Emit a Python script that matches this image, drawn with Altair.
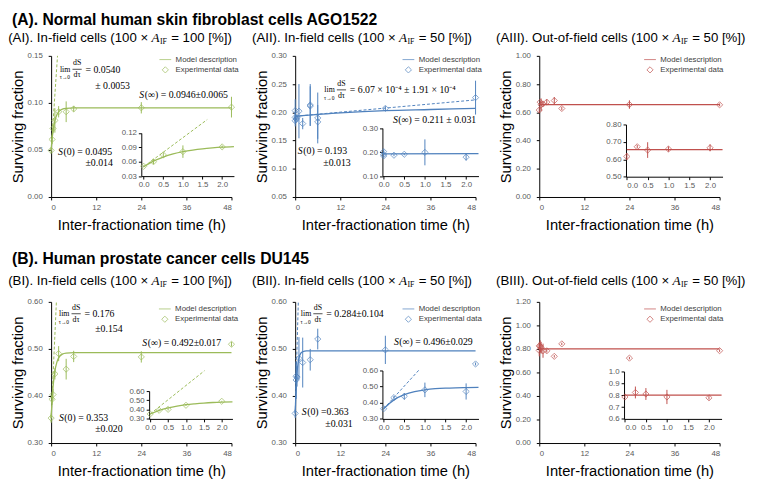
import altair as alt
import pandas as pd

SANS = "Liberation Sans"
SERIF = "Liberation Serif"
GREEN = "#9BBB59"
BLUE = "#4F81BD"
RED = "#C0504D"
W, H = 184, 144
SERIES = ["Model description", "Experimental data"]

# ---------------- (AI) AGO1522, in-field, 100 % ----------------
ai_t = [0, 0.25, 0.5, 1, 2, 4, 6, 24, 48]
ai_s = [0.0495, 0.0612, 0.0728, 0.0814, 0.0906, 0.0906, 0.0936, 0.0948, 0.0955]
ai_e = [0.003, 0.005, 0.005, 0.013, 0.006, 0.011, 0.003, 0.006, 0.011]
ai_fit_t = [0, 0.25, 0.5, 1, 1.5, 2, 3, 4, 6, 12, 24, 48]
ai_fit_s = [0.0495, 0.0612, 0.0698, 0.0810, 0.0871, 0.0905, 0.0934, 0.0942, 0.0946, 0.0946, 0.0946, 0.0946]
ai_tan_t = [0, 1.7]
ai_tan_s = [0.0495, 0.15]
ai_in_t = [0, 0.25, 0.5, 1, 2]
ai_in_s = [0.0505, 0.0600, 0.0743, 0.0811, 0.0910]
ai_in_e = [0.002, 0.005, 0.005, 0.013, 0.003]
ai_in_fit_t = [0, 0.25, 0.5, 0.75, 1, 1.25, 1.5, 1.75, 2, 2.3]
ai_in_fit_s = [0.0495, 0.0612, 0.0698, 0.0762, 0.0810, 0.0845, 0.0871, 0.0890, 0.0905, 0.0917]
ai_in_tan_t = [0, 1.62]
ai_in_tan_s = [0.0495, 0.148]

# ---------------- (AII) AGO1522, in-field, 50 % ----------------
aii_t = [0, 0, 0, 0.25, 0.5, 1, 2, 4, 4, 6, 6, 24, 48]
aii_s = [0.203, 0.191, 0.185, 0.188, 0.191, 0.202, 0.180, 0.213, 0.211, 0.190, 0.183, 0.207, 0.226]
aii_e = [0.02, 0.01, 0.01, 0.005, 0.004, 0.048, 0.01, 0.037, 0.035, 0.045, 0.03, 0.004, 0.03]
aii_fit_t = [0, 12, 24, 36, 48]
aii_fit_s = [0.193, 0.199, 0.203, 0.205, 0.207]
aii_tan_t = [0, 48]
aii_tan_s = [0.193, 0.222]
aii_in_t = [0, 0, 0, 0.25, 0.5, 1, 2]
aii_in_s = [0.202, 0.190, 0.184, 0.187, 0.191, 0.199, 0.179]
aii_in_e = [0.008, 0.005, 0.005, 0.004, 0.004, 0.054, 0.014]
aii_in_fit_t = [0, 2.3]
aii_in_fit_s = [0.193, 0.194]

# ---------------- (AIII) AGO1522, out-of-field, 50 % ----------------
aiii_t = [0, 0.25, 0.5, 1, 2, 4, 6, 24, 48]
aiii_s = [0.616, 0.672, 0.653, 0.659, 0.672, 0.683, 0.627, 0.655, 0.653]
aiii_e = [0.02, 0.01, 0.045, 0.015, 0.02, 0.025, 0.012, 0.03, 0.01]
aiii_fit_t = [0, 48]
aiii_fit_s = [0.655, 0.655]
aiii_in_t = [0, 0.25, 0.5, 1, 2]
aiii_in_s = [0.616, 0.672, 0.653, 0.659, 0.666]
aiii_in_e = [0.02, 0.01, 0.045, 0.015, 0.02]
aiii_in_fit_t = [0, 2.3]
aiii_in_fit_s = [0.655, 0.655]

# ---------------- (BI) DU145, in-field, 100 % ----------------
bi_t = [0, 0.25, 0.5, 1, 2, 4, 6, 24, 48]
bi_s = [0.353, 0.393, 0.403, 0.447, 0.490, 0.457, 0.484, 0.483, 0.510]
bi_e = [0.01, 0.012, 0.012, 0.012, 0.016, 0.022, 0.012, 0.012, 0.005]
bi_fit_t = [0, 0.25, 0.5, 1, 1.5, 2, 3, 4, 6, 48]
bi_fit_s = [0.353, 0.391, 0.418, 0.453, 0.471, 0.481, 0.489, 0.491, 0.492, 0.492]
bi_tan_t = [0, 1.4]
bi_tan_s = [0.353, 0.60]
bi_in_t = [0, 0.25, 0.5, 1, 2]
bi_in_s = [0.353, 0.393, 0.403, 0.447, 0.490]
bi_in_e = [0.005, 0.012, 0.012, 0.008, 0.005]
bi_in_fit_t = [0, 0.25, 0.5, 0.75, 1, 1.25, 1.5, 1.75, 2, 2.3]
bi_in_fit_s = [0.353, 0.391, 0.418, 0.438, 0.453, 0.463, 0.471, 0.477, 0.481, 0.484]
bi_in_tan_t = [0, 1.52]
bi_in_tan_s = [0.353, 0.82]

# ---------------- (BII) DU145, in-field, 50 % ----------------
bii_t = [0, 0.25, 0.25, 0.5, 1, 2, 4, 6, 24, 48]
bii_s = [0.363, 0.434, 0.442, 0.440, 0.480, 0.471, 0.477, 0.521, 0.498, 0.468]
bii_e = [0.01, 0.04, 0.03, 0.02, 0.045, 0.053, 0.023, 0.022, 0.03, 0.003]
bii_fit_t = [0, 0.25, 0.5, 0.75, 1, 1.5, 2, 3, 48]
bii_fit_s = [0.363, 0.418, 0.450, 0.469, 0.480, 0.491, 0.494, 0.496, 0.496]
bii_tan_t = [0, 0.83]
bii_tan_s = [0.363, 0.60]
bii_in_t = [0, 0.25, 0.5, 1, 2]
bii_in_s = [0.363, 0.432, 0.440, 0.480, 0.470]
bii_in_e = [0.005, 0.01, 0.02, 0.045, 0.05]
bii_in_fit_t = [0, 0.25, 0.5, 0.75, 1, 1.25, 1.5, 1.75, 2, 2.3]
bii_in_fit_s = [0.363, 0.418, 0.450, 0.469, 0.480, 0.487, 0.491, 0.493, 0.494, 0.495]
bii_in_tan_t = [0, 0.86]
bii_in_tan_s = [0.363, 0.604]

# ---------------- (BIII) DU145, out-of-field, 50 % ----------------
biii_t = [0, 0, 0.25, 0.5, 1, 2, 4, 6, 24, 48]
biii_s = [0.787, 0.826, 0.823, 0.81, 0.785, 0.784, 0.737, 0.843, 0.722, 0.785]
biii_e = [0.05, 0.03, 0.05, 0.05, 0.06, 0.015, 0.01, 0.01, 0.01, 0.01]
biii_fit_t = [0, 48]
biii_fit_s = [0.80, 0.80]
biii_in_t = [0, 0.25, 0.5, 1, 2]
biii_in_s = [0.785, 0.823, 0.81, 0.785, 0.778]
biii_in_e = [0.01, 0.05, 0.05, 0.06, 0.015]
biii_in_fit_t = [0, 2.3]
biii_in_fit_s = [0.80, 0.80]


def frame(t, s, e=None):
    d = pd.DataFrame({"t": t, "s": s})
    if e is not None:
        d["lo"] = [v - u for v, u in zip(s, e)]
        d["hi"] = [v + u for v, u in zip(s, e)]
    d["series"] = SERIES[1]
    return d


def txt(text, x, y, size=10, font=SERIF, style="normal", weight="normal", align="left"):
    return alt.Chart(alt.Data(values=[{"k": 0}])).mark_text(
        text=text, font=font, fontSize=size, fontStyle=style, fontWeight=weight,
        align=align, baseline="middle", color="black"
    ).encode(x=alt.value(x), y=alt.value(y))


def bar(x1, x2, y):
    return alt.Chart(alt.Data(values=[{"k": 0}])).mark_rule(color="black", strokeWidth=0.7).encode(
        x=alt.value(x1), x2=alt.value(x2), y=alt.value(y))


TS = 13.5  # panel-title font size


def title_texts(lead, tail, xa, section=None, sy=-36, ty=-18):
    out = []
    if section:
        out.append(dict(text=section, x=-40, y=sy, size=16, font=SANS, weight="bold"))
    out += [
        dict(text=lead, x=xa - 3.5, y=ty, size=TS, font=SANS, align="right"),
        dict(text="A", x=xa, y=ty, size=TS, font=SERIF, style="italic"),
        dict(text="IF", x=xa + 8.5, y=ty + 4, size=8, font=SERIF),
        dict(text=tail, x=xa + 20, y=ty, size=TS, font=SANS),
    ]
    return out


def lim_texts(x, y, value):
    return [
        dict(text="lim", x=x, y=y, size=8),
        dict(text="τ→0", x=x + 5, y=y + 7.8, size=5.5, align="center"),
        dict(text="dS", x=x + 17.5, y=y - 6.6, size=8, align="center"),
        dict(text="dτ", x=x + 17.5, y=y + 5.6, size=8, align="center"),
        dict(text=value, x=x + 26, y=y),
    ]


def lim_bar(x, y):
    return [(x + 12.8, x + 22.2, y - 0.6)]


def s_texts(x, y, rest):
    return [dict(text="S", x=x, y=y, style="italic"), dict(text=rest, x=x + 5.5, y=y)]


def panel(p):
    c = p["color"]
    xs = alt.Scale(domain=[0, 48], nice=False)
    ys = alt.Scale(domain=p["ydom"], nice=False, zero=False)
    xax = alt.Axis(values=[0, 12, 24, 36, 48], format="d", title="Inter-fractionation time (h)",
                   labelPadding=4, titlePadding=6)
    yax = alt.Axis(values=p["yticks"], format=".2f", title="Surviving fraction",
                   labelPadding=6, titlePadding=2)

    def X(f):
        return alt.X(f + ":Q", scale=xs, axis=xax)

    def Y(f):
        return alt.Y(f + ":Q", scale=ys, axis=yax)

    layers = [
        alt.Chart(frame(p["fit_t"], p["fit_s"])).mark_line(
            color=c, strokeWidth=1.3, interpolate="monotone").encode(x=X("t"), y=Y("s"))
    ]
    if "tan_t" in p:
        layers.append(alt.Chart(frame(p["tan_t"], p["tan_s"])).mark_line(
            color=c, strokeWidth=1, strokeDash=[3, 2]).encode(x=X("t"), y=Y("s")))
    pts = frame(p["t"], p["s"], p["e"])
    layers.append(alt.Chart(pts).mark_rule(color=c, strokeWidth=1).encode(
        x=X("t"), y=Y("lo"), y2=alt.Y2("hi")))
    lx, ly = p["legend"]
    leg = alt.Legend(orient="none", legendX=lx, legendY=ly, title=None, labelFont=SANS,
                     labelFontSize=8, labelColor="#404040", symbolStrokeColor=c,
                     symbolStrokeWidth=1, rowPadding=0, padding=0, labelOffset=4)
    layers.append(alt.Chart(pts).mark_point(shape="diamond", filled=False, color=c, strokeWidth=1).encode(
        x=X("t"), y=Y("s"),
        shape=alt.Shape("series:N", scale=alt.Scale(domain=SERIES, range=["stroke", "diamond"]), legend=leg),
        size=alt.Size("series:N", scale=alt.Scale(type="point", domain=SERIES, range=[144, 40], padding=0),
                      legend=leg),
    ))
    for d in p["texts"]:
        layers.append(txt(**d))
    for b in p.get("bars", []):
        layers.append(bar(*b))
    main = alt.layer(*layers)

    # inset
    ixs = alt.Scale(domain=p["ixdom"], range=p["ixr"], nice=False)
    iys = alt.Scale(domain=p["iydom"], range=p["iyr"], nice=False, zero=False)
    ixax = alt.Axis(orient="bottom", offset=p["iyr"][0] - H, values=[0, 0.5, 1, 1.5, 2], format=".1f",
                    labelPadding=2)
    iyax = alt.Axis(orient="left", offset=-p["ixr"][0], values=p["iyticks"], format=p["iyfmt"],
                    labelPadding=2)

    def IX(f):
        return alt.X(f + ":Q", scale=ixs, axis=ixax, title=None)

    def IY(f):
        return alt.Y(f + ":Q", scale=iys, axis=iyax, title=None)

    ilayers = [
        alt.Chart(frame(p["in_fit_t"], p["in_fit_s"])).mark_line(
            color=c, strokeWidth=1.3, interpolate="monotone").encode(x=IX("t"), y=IY("s"))
    ]
    if "in_tan_t" in p:
        ilayers.append(alt.Chart(frame(p["in_tan_t"], p["in_tan_s"])).mark_line(
            color=c, strokeWidth=1, strokeDash=[3, 2]).encode(x=IX("t"), y=IY("s")))
    ipts = frame(p["in_t"], p["in_s"], p["in_e"])
    ilayers.append(alt.Chart(ipts).mark_rule(color=c, strokeWidth=1).encode(
        x=IX("t"), y=IY("lo"), y2=alt.Y2("hi")))
    ilayers.append(alt.Chart(ipts).mark_point(shape="diamond", filled=False, color=c, strokeWidth=1,
                                               size=40).encode(x=IX("t"), y=IY("s")))
    inset = alt.layer(*ilayers)

    return alt.layer(main, inset).resolve_scale(x="independent", y="independent").properties(
        width=W, height=H)


AI = dict(
    color=GREEN, ydom=[0, 0.15], yticks=[0, 0.05, 0.10, 0.15],
    t=ai_t, s=ai_s, e=ai_e, fit_t=ai_fit_t, fit_s=ai_fit_s, tan_t=ai_tan_t, tan_s=ai_tan_s,
    in_t=ai_in_t, in_s=ai_in_s, in_e=ai_in_e, in_fit_t=ai_in_fit_t, in_fit_s=ai_in_fit_s,
    in_tan_t=ai_in_tan_t, in_tan_s=ai_in_tan_s,
    ixdom=[-0.06, 2.3], ixr=[92, 186.5], iydom=[0.03, 0.12], iyr=[122.7, 78.7],
    iyticks=[0.03, 0.06, 0.09, 0.12], iyfmt=".2f", legend=(110, -2.7),
    texts=title_texts("(AI). In-field cells (100 ×", "= 100 [%])", 102.5,
                      "(A). Normal human skin fibroblast cells AGO1522")
    + lim_texts(9, 14.3, "= 0.0540") + [dict(text="± 0.0053", x=45, y=31)]
    + s_texts(90, 40.3, "(∞) = 0.0946±0.0065")
    + s_texts(7, 97.7, "(0) = 0.0495") + [dict(text="±0.014", x=35, y=109.3)],
    bars=lim_bar(9, 14.3),
)

AII = dict(
    color=BLUE, ydom=[0.05, 0.30], yticks=[0.05, 0.10, 0.15, 0.20, 0.25, 0.30],
    t=aii_t, s=aii_s, e=aii_e, fit_t=aii_fit_t, fit_s=aii_fit_s, tan_t=aii_tan_t, tan_s=aii_tan_s,
    in_t=aii_in_t, in_s=aii_in_s, in_e=aii_in_e, in_fit_t=aii_in_fit_t, in_fit_s=aii_in_fit_s,
    ixdom=[-0.03, 2.3], ixr=[89, 187], iydom=[0.10, 0.30], iyr=[122.7, 73.7],
    iyticks=[0.10, 0.20, 0.30], iyfmt=".2f", legend=(109, -2.7),
    texts=title_texts("(AII). In-field cells (100 ×", "= 50 [%])", 106)
    + lim_texts(29.7, 35.3, "= 6.07 × 10⁻⁴ ± 1.91 × 10⁻⁴")
    + s_texts(99.7, 66, "(∞) = 0.211 ± 0.031")
    + s_texts(2.7, 96.7, "(0) = 0.193") + [dict(text="±0.013", x=28.7, y=109.3)],
    bars=lim_bar(29.7, 35.3),
)

AIII = dict(
    color=RED, ydom=[0, 1.0], yticks=[0, 0.2, 0.4, 0.6, 0.8, 1.0],
    t=aiii_t, s=aiii_s, e=aiii_e, fit_t=aiii_fit_t, fit_s=aiii_fit_s,
    in_t=aiii_in_t, in_s=aiii_in_s, in_e=aiii_in_e, in_fit_t=aiii_in_fit_t, in_fit_s=aiii_in_fit_s,
    ixdom=[-0.02, 2.3], ixr=[88.5, 187], iydom=[0.50, 0.80], iyr=[123.3, 70],
    iyticks=[0.5, 0.6, 0.7, 0.8], iyfmt=".2f", legend=(106.5, -2.7),
    texts=title_texts("(AIII). Out-of-field cells (100 ×", "= 50 [%])", 136),
)

BI = dict(
    color=GREEN, ydom=[0.30, 0.60], yticks=[0.3, 0.4, 0.5, 0.6],
    t=bi_t, s=bi_s, e=bi_e, fit_t=bi_fit_t, fit_s=bi_fit_s, tan_t=bi_tan_t, tan_s=bi_tan_s,
    in_t=bi_in_t, in_s=bi_in_s, in_e=bi_in_e, in_fit_t=bi_in_fit_t, in_fit_s=bi_in_fit_s,
    in_tan_t=bi_in_tan_t, in_tan_s=bi_in_tan_s,
    ixdom=[-0.03, 2.3], ixr=[100, 185], iydom=[0.30, 0.60], iyr=[119.4, 91],
    iyticks=[0.3, 0.4, 0.5, 0.6], iyfmt=".2f", legend=(109.5, 0.7),
    texts=title_texts("(BI). In-field cells (100 ×", "= 100 [%])", 102.5,
                      "(B). Human prostate cancer cells DU145", sy=-44, ty=-21)
    + lim_texts(8, 12.7, "= 0.176") + [dict(text="±0.154", x=45, y=27.4)]
    + s_texts(93, 41.7, "(∞) = 0.492±0.017")
    + s_texts(8, 118.4, "(0) = 0.353") + [dict(text="±0.020", x=45, y=129.4)],
    bars=lim_bar(8, 12.7),
)

BII = dict(
    color=BLUE, ydom=[0.30, 0.60], yticks=[0.3, 0.4, 0.5, 0.6],
    t=bii_t, s=bii_s, e=bii_e, fit_t=bii_fit_t, fit_s=bii_fit_s, tan_t=bii_tan_t, tan_s=bii_tan_s,
    in_t=bii_in_t, in_s=bii_in_s, in_e=bii_in_e, in_fit_t=bii_in_fit_t, in_fit_s=bii_in_fit_s,
    in_tan_t=bii_in_tan_t, in_tan_s=bii_in_tan_s,
    ixdom=[-0.03, 2.3], ixr=[89, 187], iydom=[0.30, 0.60], iyr=[119.4, 70],
    iyticks=[0.3, 0.4, 0.5, 0.6], iyfmt=".2f", legend=(109, 0.7),
    texts=title_texts("(BII). In-field cells (100 ×", "= 50 [%])", 106, ty=-21)
    + lim_texts(5.7, 12.7, "= 0.284±0.104")
    + s_texts(100.7, 40.7, "(∞) = 0.496±0.029")
    + s_texts(6.7, 112.4, "(0) =0.363") + [dict(text="±0.031", x=30.7, y=125)],
    bars=lim_bar(5.7, 12.7),
)

BIII = dict(
    color=RED, ydom=[0, 1.2], yticks=[0, 0.2, 0.4, 0.6, 0.8, 1.0, 1.2],
    t=biii_t, s=biii_s, e=biii_e, fit_t=biii_fit_t, fit_s=biii_fit_s,
    in_t=biii_in_t, in_s=biii_in_s, in_e=biii_in_e, in_fit_t=biii_in_fit_t, in_fit_s=biii_in_fit_s,
    ixdom=[-0.02, 2.3], ixr=[86.5, 186], iydom=[0.6, 1.0], iyr=[119.4, 71],
    iyticks=[0.6, 0.7, 0.8, 0.9, 1.0], iyfmt=".1f", legend=(106.5, 0.7),
    texts=title_texts("(BIII). Out-of-field cells (100 ×", "= 50 [%])", 136, ty=-21),
)

chart = alt.concat(
    panel(AI), panel(AII), panel(AIII), panel(BI), panel(BII), panel(BIII),
    columns=3, spacing={"row": 107, "column": 65}, bounds="flush",
).resolve_scale(
    shape="independent", size="independent"
).properties(
    padding={"left": 0, "top": 0, "right": 4, "bottom": 2}
).configure_view(
    strokeWidth=0
).configure_axis(
    grid=False, labelFont=SANS, labelFontSize=8, labelColor="#595959",
    titleFont=SANS, titleFontSize=15, titleFontWeight="normal", titleColor="black",
    domainColor="black", domainWidth=1, tickColor="black", tickSize=3, tickWidth=1,
)

chart.save("out.html", embed_options={"renderer": "svg", "actions": False})
